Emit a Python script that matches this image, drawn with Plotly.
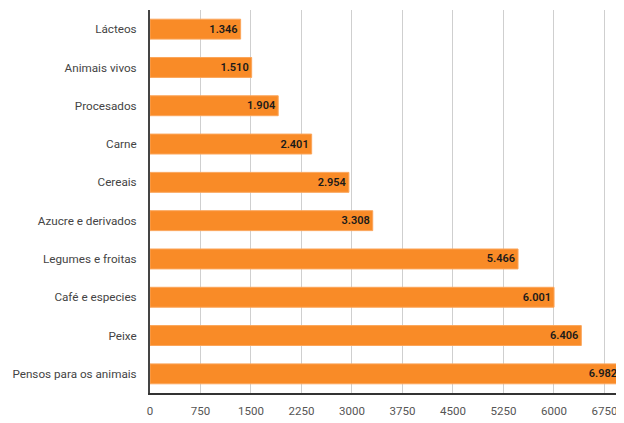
import plotly.graph_objects as go

categories = ["Lácteos", "Animais vivos", "Procesados", "Carne", "Cereais",
              "Azucre e derivados", "Legumes e froitas", "Café e especies",
              "Peixe", "Pensos para os animais"]
values = [1346, 1510, 1904, 2401, 2954, 3308, 5466, 6001, 6406, 6982]
tick_vals = [0, 750, 1500, 2250, 3000, 3750, 4500, 5250, 6000, 6750]

fig = go.Figure(go.Bar(
    x=values, y=categories, orientation="h",
    marker=dict(color="#F98B27", line=dict(color="#FBA55A", width=1)),
    width=0.52,
    texttemplate="%{x:,}", textposition="inside", insidetextanchor="end",
    textfont=dict(family="Roboto", size=11, color="#1a1a1a", weight=600),
    cliponaxis=False,
))

fig.update_layout(
    width=616, height=415,
    margin=dict(l=142, r=0, t=2, b=30, autoexpand=False),
    paper_bgcolor="white", plot_bgcolor="white",
    separators=",.",
    showlegend=False,
    xaxis=dict(range=[0, 7040], tickvals=tick_vals, showgrid=True,
               gridcolor="#cfcfcf", gridwidth=1, zeroline=False,
               showline=True, linecolor="#333333", linewidth=2,
               tickfont=dict(family="Roboto", size=11.5, color="#555555"),
               ticks="", ticklabelstandoff=6),
    yaxis=dict(range=[9.5, -0.5], showgrid=False, zeroline=False,
               showline=True, linecolor="#444444", linewidth=2,
               tickfont=dict(family="Roboto", size=11.7, color="#444444"),
               ticks="", ticklabelstandoff=9),
    font=dict(family="Roboto"),
)

fig.write_html("out.html")
